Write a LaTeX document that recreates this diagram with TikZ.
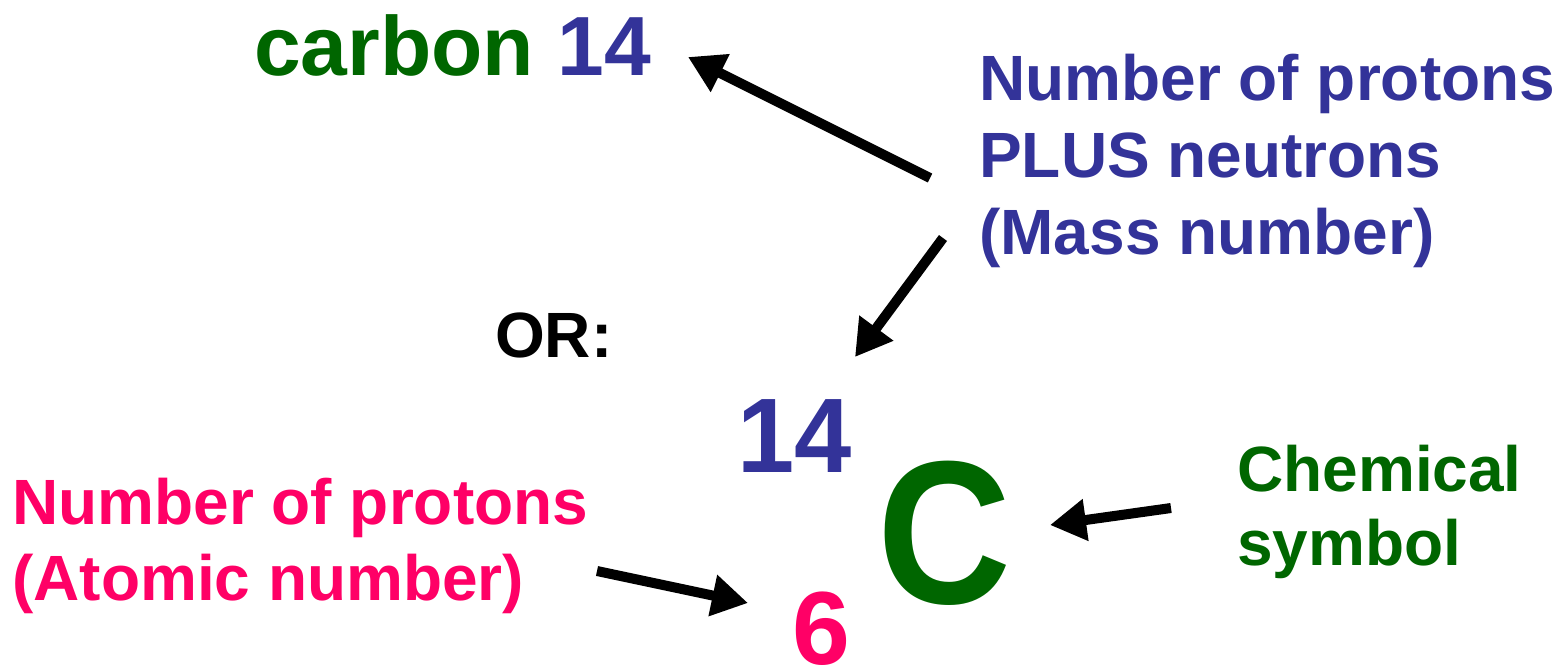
\documentclass[tikz,border=0pt]{standalone}
\usepackage{fontspec}
\usepackage{graphicx}
\setmainfont{Liberation Sans}
\usetikzlibrary{arrows.meta}
\definecolor{cblue}{HTML}{333399}
\definecolor{cgreen}{HTML}{006600}
\definecolor{cpink}{HTML}{FF0066}
\tikzset{
  lbl/.style={anchor=base west, inner sep=0pt, font=\bfseries\fontsize{64}{77}\selectfont, align=left},
  bigtxt/.style={anchor=base west, inner sep=0pt},
  fat/.style={line width=10pt, draw=black, -{Triangle[length=36pt 0 0, width=40pt 0 0]}}
}
\begin{document}
\begin{tikzpicture}[x=1pt,y=-1pt]
\useasboundingbox (0,0) rectangle (1565,670);
% carbon 14
\node[bigtxt, font=\bfseries\fontsize{84}{100}\selectfont] (carbon) at (254,75) {\textcolor{cgreen}{carbon} \textcolor{cblue}{14}};
% mass number label
\node[lbl, text=cblue] (mass1) at (979,100) {Number of protons};
\node[lbl, text=cblue] (mass2) at (979,177) {PLUS neutrons};
\node[lbl, text=cblue] (mass3) at (979,254) {(Mass number)};
% OR:
\node[lbl, text=black] (or) at (495,357) {OR:};
% 14
\node[bigtxt, text=cblue, font=\bfseries\fontsize{106}{120}\selectfont] (fourteen) at (737,472) {\scalebox{0.97}[1]{14}};
% C
\node[bigtxt, text=cgreen, font=\bfseries\fontsize{204}{240}\selectfont] (C) at (877,603) {\scalebox{0.91}[1]{C}};
% 6
\node[bigtxt, text=cpink, text depth=0pt, font=\bfseries\fontsize{104}{120}\selectfont] (six) at (792,664) {6};
% atomic number label
\node[lbl, text=cpink] (atom1) at (12,524) {Number of protons};
\node[lbl, text=cpink] (atom2) at (12,600) {(Atomic number)};
% chemical symbol
\node[lbl, text=cgreen] (chem1) at (1237,491) {Chemical};
\node[lbl, text=cgreen] (chem2) at (1237,565) {symbol};
% arrow endpoints
\coordinate (a1s) at (930,178);
\coordinate (a1e) at (688,57);
\coordinate (a2s) at (943,238);
\coordinate (a2e) at (855,357);
\coordinate (a3s) at (597,571);
\coordinate (a3e) at (748,603);
\coordinate (a4s) at (1171,508);
\coordinate (a4e) at (1050,525);
\draw[fat] (a1s) -- (a1e);
\draw[fat] (a2s) -- (a2e);
\draw[fat] (a3s) -- (a3e);
\draw[fat] (a4s) -- (a4e);
\end{tikzpicture}
\end{document}
